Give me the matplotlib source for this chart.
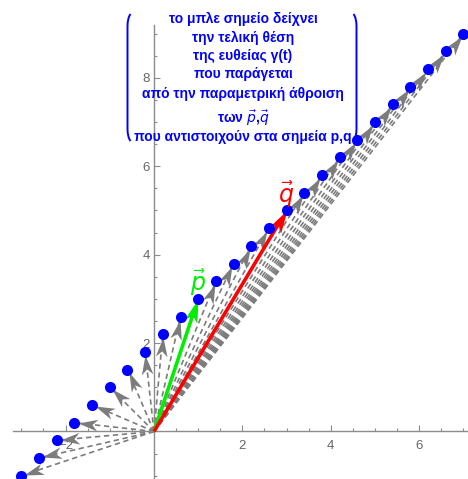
import numpy as np
import matplotlib.pyplot as plt
from matplotlib.path import Path
from matplotlib.markers import MarkerStyle
from matplotlib.transforms import Affine2D
import matplotlib.patches as mpatches

# points of the line gamma(t) = p + t(q - p)
xs = [-3.0, -2.6, -2.2, -1.8, -1.4, -1.0, -0.6, -0.2, 0.2, 0.6, 1.0, 1.4, 1.8,
      2.2, 2.6, 3.0, 3.4, 3.8, 4.2, 4.6, 5.0, 5.4, 5.8, 6.2, 6.6, 7.0]
ys = [-1.0, -0.6, -0.2, 0.2, 0.6, 1.0, 1.4, 1.8, 2.2, 2.6, 3.0, 3.4, 3.8,
      4.2, 4.6, 5.0, 5.4, 5.8, 6.2, 6.6, 7.0, 7.4, 7.8, 8.2, 8.6, 9.0]
p = (1, 3)
q = (3, 5)

lines = ["το μπλε σημείο δείχνει",
         "την τελική θέση",
         "της ευθείας γ(t)",
         "που παράγεται",
         "από την παραμετρική άθροιση",
         r"των $\vec{p}$,$\vec{q}$",
         "που αντιστοιχούν στα σημεία p,q"]
line_base = [23, 42, 60, 78, 98, 123, 141]  # pixel rows of the baselines

W, H = 468, 479
fig = plt.figure(figsize=(W / 100, H / 100), dpi=100)
ax = fig.add_axes([0, 0, 1, 1])
ax.set_xlim(-3.484, 7.104)
ax.set_ylim(-1.075, 9.762)

axcol = '#8c8c8c'
for s in ['top', 'right']:
    ax.spines[s].set_visible(False)
ax.spines['left'].set_position(('data', 0))
ax.spines['bottom'].set_position(('data', 0))
ax.spines['bottom'].set_bounds(-3.2, 7.2)
ax.spines['left'].set_bounds(-1.1, 9.2)
for s in ['left', 'bottom']:
    ax.spines[s].set_color(axcol)
    ax.spines[s].set_linewidth(1.0)

ax.set_xticks([-2, 2, 4, 6])
ax.set_xticklabels(['−2', '2', '4', '6'])
ax.set_yticks([2, 4, 6, 8])
ax.set_xticks(np.arange(-3, 7.01, 0.5), minor=True)
ax.set_yticks(np.arange(-1, 9.01, 0.5), minor=True)
ax.tick_params(which='both', direction='in', color=axcol, width=0.8)
ax.tick_params(which='major', length=4)
ax.tick_params(which='minor', length=2.3)
ax.tick_params(axis='x', which='major', pad=6, labelsize=9.5, labelcolor='#666666')
ax.tick_params(axis='y', which='major', pad=3, labelsize=9.5, labelcolor='#666666')
for lab in ax.get_xticklabels() + ax.get_yticklabels():
    lab.set_family('Liberation Sans')


def head(tipx, tipy, ang, size, color, z, w=0.3):
    verts = [(0, 0), (-1, w), (-0.72, 0), (-1, -w), (0, 0)]
    codes = [Path.MOVETO, Path.LINETO, Path.LINETO, Path.LINETO, Path.CLOSEPOLY]
    m = MarkerStyle(Path(verts, codes), transform=Affine2D().rotate_deg(ang))
    ax.plot([tipx], [tipy], marker=m, markersize=size, color=color,
            markeredgewidth=0, linestyle='none', zorder=z)


# dashed gray arrows from the origin
gray = '#7c7c7c'
for x, y in zip(xs, ys):
    ax.plot([0, x], [0, y], linestyle=(0, (3.2, 2.2)), color=gray,
            linewidth=1.2, zorder=2)
    L = np.hypot(x, y)
    k = (L - 0.07) / L
    head(x * k, y * k, np.degrees(np.arctan2(y, x)), 28, gray, 3)

# p and q vectors
for v, col in [(p, '#00ee00'), (q, '#ff0000')]:
    ang = np.degrees(np.arctan2(v[1], v[0]))
    L = np.hypot(v[0], v[1])
    k = (L - 0.35) / L
    ax.plot([0, v[0] * k], [0, v[1] * k], color=col, linewidth=2.6,
            solid_capstyle='butt', zorder=4)
    head(v[0], v[1], ang, 33, col, 5, w=0.28)

ax.plot(xs, ys, 'o', color='#0000ff', markersize=8, markeredgewidth=0, zorder=6)

ax.text(1.0, 3.36, r'$\vec{p}$', color='#00ee00', fontsize=17,
        ha='center', va='center', zorder=7)
ax.text(3.0, 5.35, r'$\vec{q}$', color='#ff0000', fontsize=17,
        ha='center', va='center', zorder=7)

# blue text block with parentheses
for t, yy in zip(lines, line_base):
    fig.text(243 / W, 1 - yy / H, t, color='#0000ff', fontsize=10,
             fontweight='bold', family='Liberation Sans',
             ha='center', va='baseline', zorder=8)


def paren(x, top, bot, d):
    pts = [(x + d * 3, top), (x, top + 4), (x, top + 12),
           (x, bot - 12), (x, bot - 4), (x + d * 3, bot)]
    codes = [Path.MOVETO, Path.CURVE3, Path.CURVE3,
             Path.LINETO, Path.CURVE3, Path.CURVE3]
    verts = [(a / W, 1 - b / H) for a, b in pts]
    fig.patches.append(mpatches.PathPatch(Path(verts, codes), fill=False,
                                          edgecolor='#0000ff', linewidth=1.4,
                                          transform=fig.transFigure, zorder=8))


paren(127.5, 14, 141, 1)
paren(356.5, 14, 141, -1)

fig.savefig('out.png', dpi=100)
